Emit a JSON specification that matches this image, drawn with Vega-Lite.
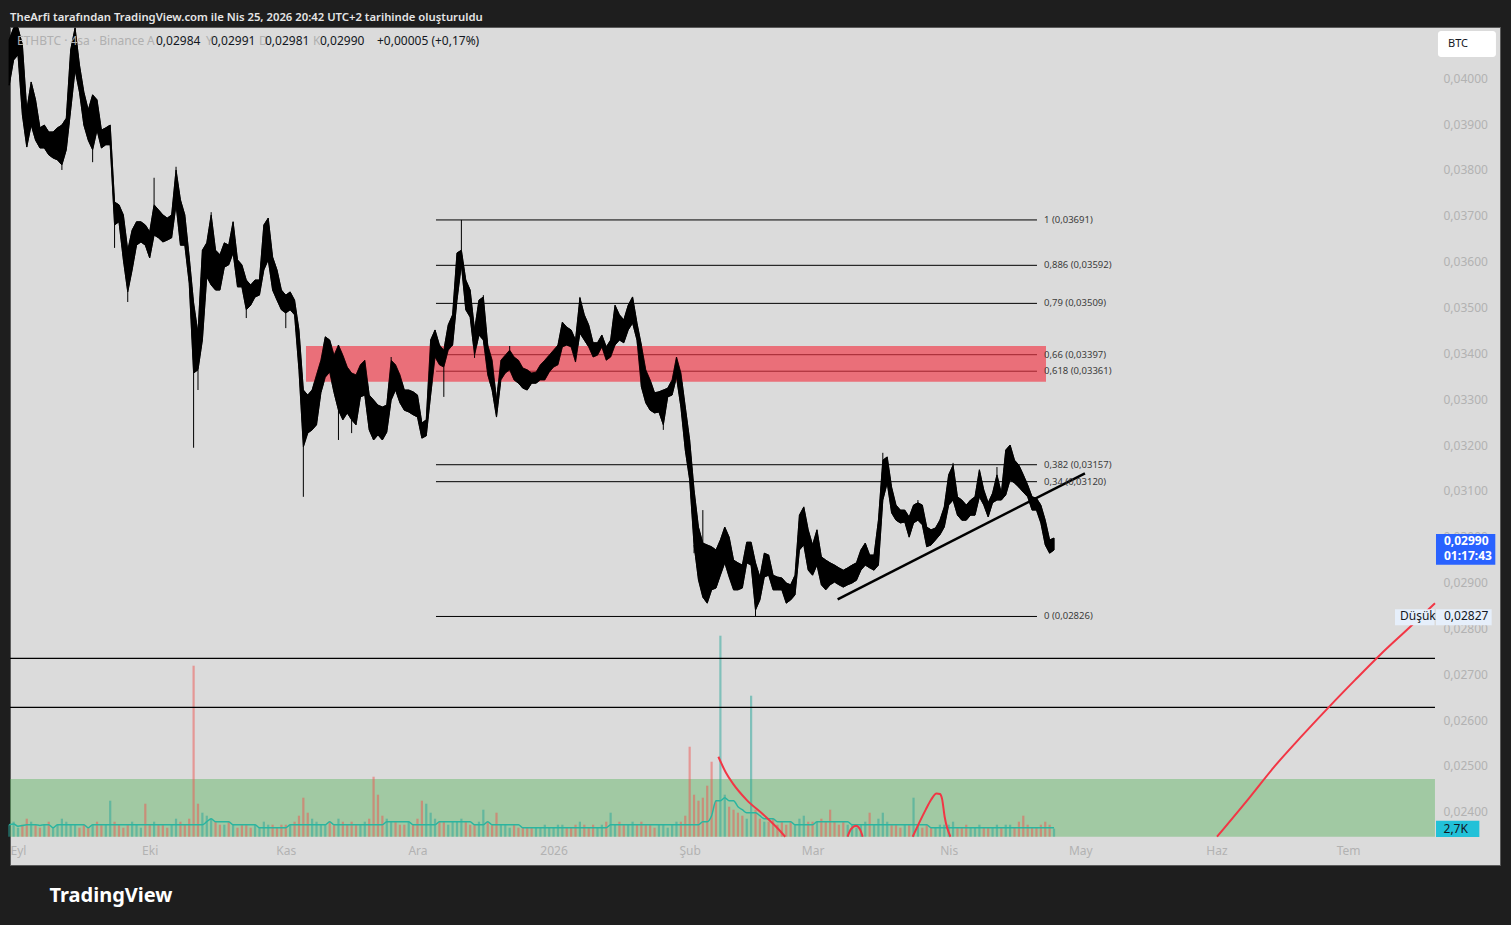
{
  "$schema": "https://vega.github.io/schema/vega-lite/v6.json",
  "width": 1490,
  "height": 838,
  "autosize": "none",
  "padding": {"left": 10, "top": 27, "right": 11, "bottom": 60},
  "background": "#1e1e1e",
  "title": {
    "text": "TheArfi tarafından TradingView.com ile Nis 25, 2026 20:42 UTC+2 tarihinde oluşturuldu",
    "anchor": "start",
    "frame": "group",
    "color": "#e6e6e6",
    "fontSize": 11.3,
    "fontWeight": 600,
    "font": "Noto Sans",
    "offset": 9,
    "dy": 15,
    "baseline": "alphabetic"
  },
  "config": {
    "view": {"fill": "#dbdbdb", "stroke": "#5b5b5b"},
    "scale": {"continuousPadding": 0},
    "font": "Noto Sans"
  },
  "datasets": {
    "fiyat": [
      {"t":"2025-08-30","h":0.04084,"l":0.03985,"v":4},
      {"t":"2025-08-31","h":0.04110,"l":0.04040,"v":5},
      {"t":"2025-09-01","h":0.04110,"l":0.04051,"v":3},
      {"t":"2025-09-02","h":0.04073,"l":0.03920,"v":4},
      {"t":"2025-09-03","h":0.03931,"l":0.03850,"v":6},
      {"t":"2025-09-04","h":0.03992,"l":0.03898,"v":5},
      {"t":"2025-09-05","h":0.03953,"l":0.03865,"v":4},
      {"t":"2025-09-06","h":0.03892,"l":0.03848,"v":3},
      {"t":"2025-09-07","h":0.03898,"l":0.03848,"v":4},
      {"t":"2025-09-08","h":0.03883,"l":0.03833,"v":5},
      {"t":"2025-09-09","h":0.03883,"l":0.03826,"v":3},
      {"t":"2025-09-10","h":0.03892,"l":0.03822,"v":4},
      {"t":"2025-09-11","h":0.03898,"l":0.03811,"wl":0.03800,"v":6},
      {"t":"2025-09-12","h":0.03913,"l":0.03844,"v":5},
      {"t":"2025-09-13","h":0.04062,"l":0.03931,"v":4},
      {"t":"2025-09-14","h":0.04110,"l":0.04018,"v":4},
      {"t":"2025-09-15","h":0.04029,"l":0.03970,"v":3},
      {"t":"2025-09-16","h":0.03970,"l":0.03898,"v":4},
      {"t":"2025-09-17","h":0.03931,"l":0.03865,"v":3},
      {"t":"2025-09-18","h":0.03964,"l":0.03844,"wl":0.03817,"v":4},
      {"t":"2025-09-19","h":0.03953,"l":0.03887,"v":5},
      {"t":"2025-09-20","h":0.03887,"l":0.03848,"v":4},
      {"t":"2025-09-21","h":0.03892,"l":0.03855,"v":4},
      {"t":"2025-09-22","h":0.03898,"l":0.03855,"v":12},
      {"t":"2025-09-23","h":0.03730,"l":0.03680,"wl":0.03630,"v":5},
      {"t":"2025-09-24","h":0.03724,"l":0.03687,"v":4},
      {"t":"2025-09-25","h":0.03702,"l":0.03604,"v":3},
      {"t":"2025-09-26","h":0.03625,"l":0.03534,"wl":0.03512,"v":4},
      {"t":"2025-09-27","h":0.03669,"l":0.03582,"v":5},
      {"t":"2025-09-28","h":0.03687,"l":0.03636,"v":4},
      {"t":"2025-09-29","h":0.03687,"l":0.03643,"v":3},
      {"t":"2025-09-30","h":0.03680,"l":0.03636,"v":11},
      {"t":"2025-10-01","h":0.03665,"l":0.03608,"v":4},
      {"t":"2025-10-02","h":0.03724,"l":0.03658,"wh":0.03783,"v":5},
      {"t":"2025-10-03","h":0.03713,"l":0.03652,"v":4},
      {"t":"2025-10-04","h":0.03702,"l":0.03643,"v":4},
      {"t":"2025-10-05","h":0.03695,"l":0.03647,"v":3},
      {"t":"2025-10-06","h":0.03702,"l":0.03652,"v":4},
      {"t":"2025-10-07","h":0.03800,"l":0.03724,"wh":0.03807,"v":6},
      {"t":"2025-10-08","h":0.03735,"l":0.03636,"v":5},
      {"t":"2025-10-09","h":0.03702,"l":0.03636,"v":4},
      {"t":"2025-10-10","h":0.03610,"l":0.03553,"v":6},
      {"t":"2025-10-11","h":0.03510,"l":0.03357,"wl":0.03194,"v":57},
      {"t":"2025-10-12","h":0.03444,"l":0.03364,"wl":0.03320,"v":11},
      {"t":"2025-10-13","h":0.03625,"l":0.03429,"v":8},
      {"t":"2025-10-14","h":0.03641,"l":0.03567,"v":7},
      {"t":"2025-10-15","h":0.03702,"l":0.03549,"wh":0.03708,"v":6},
      {"t":"2025-10-16","h":0.03625,"l":0.03538,"v":5},
      {"t":"2025-10-17","h":0.03615,"l":0.03538,"v":4},
      {"t":"2025-10-18","h":0.03641,"l":0.03588,"v":4},
      {"t":"2025-10-19","h":0.03636,"l":0.03593,"v":5},
      {"t":"2025-10-20","h":0.03687,"l":0.03619,"v":4},
      {"t":"2025-10-21","h":0.03604,"l":0.03545,"v":3},
      {"t":"2025-10-22","h":0.03593,"l":0.03545,"v":4},
      {"t":"2025-10-23","h":0.03560,"l":0.03495,"wl":0.03477,"v":4},
      {"t":"2025-10-24","h":0.03549,"l":0.03505,"v":3},
      {"t":"2025-10-25","h":0.03560,"l":0.03523,"v":4},
      {"t":"2025-10-26","h":0.03560,"l":0.03527,"v":3},
      {"t":"2025-10-27","h":0.03680,"l":0.03582,"v":5},
      {"t":"2025-10-28","h":0.03695,"l":0.03604,"v":4},
      {"t":"2025-10-29","h":0.03610,"l":0.03538,"v":4},
      {"t":"2025-10-30","h":0.03582,"l":0.03516,"v":3},
      {"t":"2025-10-31","h":0.03538,"l":0.03495,"v":4},
      {"t":"2025-11-01","h":0.03527,"l":0.03488,"wl":0.03455,"v":4},
      {"t":"2025-11-02","h":0.03534,"l":0.03495,"v":4},
      {"t":"2025-11-03","h":0.03516,"l":0.03484,"v":5},
      {"t":"2025-11-04","h":0.03451,"l":0.03364,"v":7},
      {"t":"2025-11-05","h":0.03320,"l":0.03196,"wl":0.03087,"v":13},
      {"t":"2025-11-06","h":0.03309,"l":0.03226,"v":8},
      {"t":"2025-11-07","h":0.03320,"l":0.03233,"v":6},
      {"t":"2025-11-08","h":0.03353,"l":0.03244,"v":5},
      {"t":"2025-11-09","h":0.03385,"l":0.03314,"v":4},
      {"t":"2025-11-10","h":0.03436,"l":0.03348,"v":4},
      {"t":"2025-11-11","h":0.03429,"l":0.03359,"v":5},
      {"t":"2025-11-12","h":0.03396,"l":0.03314,"v":4},
      {"t":"2025-11-13","h":0.03418,"l":0.03276,"wl":0.03211,"v":6},
      {"t":"2025-11-14","h":0.03396,"l":0.03255,"v":5},
      {"t":"2025-11-15","h":0.03370,"l":0.03270,"v":4},
      {"t":"2025-11-16","h":0.03357,"l":0.03255,"wl":0.03226,"v":5},
      {"t":"2025-11-17","h":0.03353,"l":0.03244,"v":4},
      {"t":"2025-11-18","h":0.03375,"l":0.03305,"v":4},
      {"t":"2025-11-19","h":0.03385,"l":0.03309,"v":5},
      {"t":"2025-11-20","h":0.03309,"l":0.03233,"v":6},
      {"t":"2025-11-21","h":0.03298,"l":0.03211,"v":20},
      {"t":"2025-11-22","h":0.03287,"l":0.03222,"v":14},
      {"t":"2025-11-23","h":0.03283,"l":0.03211,"v":7},
      {"t":"2025-11-24","h":0.03287,"l":0.03228,"v":6},
      {"t":"2025-11-25","h":0.03385,"l":0.03298,"wh":0.03392,"v":5},
      {"t":"2025-11-26","h":0.03375,"l":0.03320,"v":5},
      {"t":"2025-11-27","h":0.03353,"l":0.03292,"v":4},
      {"t":"2025-11-28","h":0.03320,"l":0.03276,"v":4},
      {"t":"2025-11-29","h":0.03320,"l":0.03272,"v":5},
      {"t":"2025-11-30","h":0.03316,"l":0.03266,"v":4},
      {"t":"2025-12-01","h":0.03309,"l":0.03261,"v":6},
      {"t":"2025-12-02","h":0.03248,"l":0.03215,"v":12},
      {"t":"2025-12-03","h":0.03255,"l":0.03220,"v":11},
      {"t":"2025-12-04","h":0.03429,"l":0.03309,"v":8},
      {"t":"2025-12-05","h":0.03451,"l":0.03392,"v":6},
      {"t":"2025-12-06","h":0.03418,"l":0.03375,"v":5},
      {"t":"2025-12-07","h":0.03407,"l":0.03370,"wl":0.03305,"v":5},
      {"t":"2025-12-08","h":0.03462,"l":0.03407,"v":4},
      {"t":"2025-12-09","h":0.03484,"l":0.03418,"v":5},
      {"t":"2025-12-10","h":0.03619,"l":0.03516,"v":5},
      {"t":"2025-12-11","h":0.03625,"l":0.03593,"wh":0.03691,"v":6},
      {"t":"2025-12-12","h":0.03560,"l":0.03495,"v":5},
      {"t":"2025-12-13","h":0.03538,"l":0.03479,"v":4},
      {"t":"2025-12-14","h":0.03451,"l":0.03396,"wl":0.03390,"v":4},
      {"t":"2025-12-15","h":0.03516,"l":0.03440,"v":5},
      {"t":"2025-12-16","h":0.03523,"l":0.03429,"wh":0.03527,"v":9},
      {"t":"2025-12-17","h":0.03418,"l":0.03353,"v":5},
      {"t":"2025-12-18","h":0.03385,"l":0.03320,"v":4},
      {"t":"2025-12-19","h":0.03298,"l":0.03261,"v":8},
      {"t":"2025-12-20","h":0.03385,"l":0.03342,"v":4},
      {"t":"2025-12-21","h":0.03396,"l":0.03357,"v":4},
      {"t":"2025-12-22","h":0.03407,"l":0.03364,"wh":0.03416,"v":3},
      {"t":"2025-12-23","h":0.03392,"l":0.03342,"v":4},
      {"t":"2025-12-24","h":0.03385,"l":0.03335,"v":3},
      {"t":"2025-12-25","h":0.03368,"l":0.03324,"v":3},
      {"t":"2025-12-26","h":0.03364,"l":0.03320,"v":3},
      {"t":"2025-12-27","h":0.03357,"l":0.03335,"v":3},
      {"t":"2025-12-28","h":0.03359,"l":0.03335,"v":3},
      {"t":"2025-12-29","h":0.03375,"l":0.03342,"v":3},
      {"t":"2025-12-30","h":0.03385,"l":0.03342,"v":4},
      {"t":"2025-12-31","h":0.03396,"l":0.03359,"v":3},
      {"t":"2026-01-01","h":0.03407,"l":0.03370,"v":3},
      {"t":"2026-01-02","h":0.03418,"l":0.03375,"v":4},
      {"t":"2026-01-03","h":0.03468,"l":0.03414,"v":4},
      {"t":"2026-01-04","h":0.03457,"l":0.03418,"v":3},
      {"t":"2026-01-05","h":0.03451,"l":0.03414,"v":3},
      {"t":"2026-01-06","h":0.03429,"l":0.03381,"v":4},
      {"t":"2026-01-07","h":0.03521,"l":0.03444,"wh":0.03523,"v":5},
      {"t":"2026-01-08","h":0.03484,"l":0.03429,"v":4},
      {"t":"2026-01-09","h":0.03462,"l":0.03414,"v":3},
      {"t":"2026-01-10","h":0.03423,"l":0.03392,"v":4},
      {"t":"2026-01-11","h":0.03423,"l":0.03396,"v":3},
      {"t":"2026-01-12","h":0.03440,"l":0.03414,"v":4},
      {"t":"2026-01-13","h":0.03414,"l":0.03385,"v":5},
      {"t":"2026-01-14","h":0.03429,"l":0.03392,"v":8},
      {"t":"2026-01-15","h":0.03505,"l":0.03418,"v":4},
      {"t":"2026-01-16","h":0.03484,"l":0.03429,"v":5},
      {"t":"2026-01-17","h":0.03473,"l":0.03423,"v":4},
      {"t":"2026-01-18","h":0.03505,"l":0.03451,"v":4},
      {"t":"2026-01-19","h":0.03523,"l":0.03466,"v":5},
      {"t":"2026-01-20","h":0.03466,"l":0.03429,"v":4},
      {"t":"2026-01-21","h":0.03418,"l":0.03327,"v":5},
      {"t":"2026-01-22","h":0.03364,"l":0.03292,"v":4},
      {"t":"2026-01-23","h":0.03342,"l":0.03276,"v":4},
      {"t":"2026-01-24","h":0.03314,"l":0.03270,"v":3},
      {"t":"2026-01-25","h":0.03316,"l":0.03272,"v":4},
      {"t":"2026-01-26","h":0.03320,"l":0.03244,"wl":0.03233,"v":4},
      {"t":"2026-01-27","h":0.03324,"l":0.03305,"v":3},
      {"t":"2026-01-28","h":0.03342,"l":0.03309,"v":4},
      {"t":"2026-01-29","h":0.03392,"l":0.03348,"v":5},
      {"t":"2026-01-30","h":0.03357,"l":0.03283,"v":5},
      {"t":"2026-01-31","h":0.03283,"l":0.03189,"v":7},
      {"t":"2026-02-01","h":0.03211,"l":0.03124,"v":30},
      {"t":"2026-02-02","h":0.03102,"l":0.02982,"wl":0.02964,"v":14},
      {"t":"2026-02-03","h":0.03021,"l":0.02906,"v":12},
      {"t":"2026-02-04","h":0.02986,"l":0.02868,"wh":0.03058,"v":13},
      {"t":"2026-02-05","h":0.02982,"l":0.02855,"v":17},
      {"t":"2026-02-06","h":0.02978,"l":0.02884,"v":25},
      {"t":"2026-02-07","h":0.02971,"l":0.02888,"v":12},
      {"t":"2026-02-08","h":0.02993,"l":0.02916,"v":67},
      {"t":"2026-02-09","h":0.03021,"l":0.02943,"v":14},
      {"t":"2026-02-10","h":0.02999,"l":0.02912,"v":10},
      {"t":"2026-02-11","h":0.02949,"l":0.02884,"v":9},
      {"t":"2026-02-12","h":0.02943,"l":0.02884,"v":8},
      {"t":"2026-02-13","h":0.02938,"l":0.02888,"v":7},
      {"t":"2026-02-14","h":0.02988,"l":0.02943,"v":6},
      {"t":"2026-02-15","h":0.02988,"l":0.02938,"v":47},
      {"t":"2026-02-16","h":0.02943,"l":0.02840,"wl":0.02827,"v":9},
      {"t":"2026-02-17","h":0.02912,"l":0.02862,"v":6},
      {"t":"2026-02-18","h":0.02964,"l":0.02912,"v":5},
      {"t":"2026-02-19","h":0.02960,"l":0.02916,"v":5},
      {"t":"2026-02-20","h":0.02916,"l":0.02884,"v":6},
      {"t":"2026-02-21","h":0.02912,"l":0.02884,"v":4},
      {"t":"2026-02-22","h":0.02910,"l":0.02884,"v":5},
      {"t":"2026-02-23","h":0.02899,"l":0.02855,"v":4},
      {"t":"2026-02-24","h":0.02895,"l":0.02862,"v":5},
      {"t":"2026-02-25","h":0.02916,"l":0.02873,"v":4},
      {"t":"2026-02-26","h":0.03047,"l":0.02971,"v":6},
      {"t":"2026-02-27","h":0.03065,"l":0.02982,"v":7},
      {"t":"2026-02-28","h":0.03015,"l":0.02927,"v":5},
      {"t":"2026-03-01","h":0.02982,"l":0.02916,"v":5},
      {"t":"2026-03-02","h":0.03015,"l":0.02938,"v":5},
      {"t":"2026-03-03","h":0.02956,"l":0.02895,"v":6},
      {"t":"2026-03-04","h":0.02949,"l":0.02884,"v":5},
      {"t":"2026-03-05","h":0.02943,"l":0.02895,"v":9},
      {"t":"2026-03-06","h":0.02938,"l":0.02901,"v":5},
      {"t":"2026-03-07","h":0.02932,"l":0.02895,"v":4},
      {"t":"2026-03-08","h":0.02927,"l":0.02890,"v":5},
      {"t":"2026-03-09","h":0.02932,"l":0.02895,"v":4},
      {"t":"2026-03-10","h":0.02938,"l":0.02899,"v":4},
      {"t":"2026-03-11","h":0.02943,"l":0.02905,"v":3},
      {"t":"2026-03-12","h":0.02971,"l":0.02927,"v":4},
      {"t":"2026-03-13","h":0.02986,"l":0.02938,"v":5},
      {"t":"2026-03-14","h":0.02960,"l":0.02932,"v":8},
      {"t":"2026-03-15","h":0.02960,"l":0.02927,"v":4},
      {"t":"2026-03-16","h":0.03036,"l":0.02938,"v":6},
      {"t":"2026-03-17","h":0.03167,"l":0.03080,"wh":0.03183,"v":8},
      {"t":"2026-03-18","h":0.03174,"l":0.03117,"v":5},
      {"t":"2026-03-19","h":0.03108,"l":0.03052,"v":4},
      {"t":"2026-03-20","h":0.03069,"l":0.03036,"v":4},
      {"t":"2026-03-21","h":0.03058,"l":0.03030,"v":3},
      {"t":"2026-03-22","h":0.03058,"l":0.03032,"v":4},
      {"t":"2026-03-23","h":0.03043,"l":0.02999,"v":4},
      {"t":"2026-03-24","h":0.03069,"l":0.03030,"v":13},
      {"t":"2026-03-25","h":0.03074,"l":0.03036,"wh":0.03080,"v":4},
      {"t":"2026-03-26","h":0.03069,"l":0.03026,"v":3},
      {"t":"2026-03-27","h":0.03021,"l":0.02978,"v":4},
      {"t":"2026-03-28","h":0.03015,"l":0.02982,"v":3},
      {"t":"2026-03-29","h":0.03019,"l":0.02993,"v":3},
      {"t":"2026-03-30","h":0.03036,"l":0.03004,"v":4},
      {"t":"2026-03-31","h":0.03065,"l":0.03021,"v":4},
      {"t":"2026-04-01","h":0.03135,"l":0.03069,"v":4},
      {"t":"2026-04-02","h":0.03156,"l":0.03080,"wh":0.03161,"v":5},
      {"t":"2026-04-03","h":0.03087,"l":0.03047,"v":3},
      {"t":"2026-04-04","h":0.03080,"l":0.03036,"v":3},
      {"t":"2026-04-05","h":0.03069,"l":0.03036,"v":4},
      {"t":"2026-04-06","h":0.03080,"l":0.03047,"v":3},
      {"t":"2026-04-07","h":0.03087,"l":0.03047,"v":3},
      {"t":"2026-04-08","h":0.03146,"l":0.03087,"v":4},
      {"t":"2026-04-09","h":0.03102,"l":0.03069,"v":3},
      {"t":"2026-04-10","h":0.03074,"l":0.03043,"v":3},
      {"t":"2026-04-11","h":0.03095,"l":0.03074,"v":3},
      {"t":"2026-04-12","h":0.03135,"l":0.03080,"wh":0.03152,"v":4},
      {"t":"2026-04-13","h":0.03095,"l":0.03080,"v":3},
      {"t":"2026-04-14","h":0.03189,"l":0.03091,"v":4},
      {"t":"2026-04-15","h":0.03200,"l":0.03124,"v":4},
      {"t":"2026-04-16","h":0.03167,"l":0.03117,"v":3},
      {"t":"2026-04-17","h":0.03156,"l":0.03108,"v":5},
      {"t":"2026-04-18","h":0.03135,"l":0.03097,"v":7},
      {"t":"2026-04-19","h":0.03113,"l":0.03087,"v":4},
      {"t":"2026-04-20","h":0.03087,"l":0.03058,"v":3},
      {"t":"2026-04-21","h":0.03084,"l":0.03058,"v":3},
      {"t":"2026-04-22","h":0.03069,"l":0.03030,"v":4},
      {"t":"2026-04-23","h":0.03036,"l":0.02982,"v":5},
      {"t":"2026-04-24","h":0.02993,"l":0.02964,"v":4},
      {"t":"2026-04-25","h":0.02997,"l":0.02971,"v":2.7}
    ],
    "fib": [
      {"seviye":0.03691,"etiket":"1 (0,03691)"},
      {"seviye":0.03592,"etiket":"0,886 (0,03592)"},
      {"seviye":0.03509,"etiket":"0,79 (0,03509)"},
      {"seviye":0.03397,"etiket":"0,66 (0,03397)"},
      {"seviye":0.03361,"etiket":"0,618 (0,03361)"},
      {"seviye":0.03157,"etiket":"0,382 (0,03157)"},
      {"seviye":0.03120,"etiket":"0,34 (0,03120)"},
      {"seviye":0.02826,"etiket":"0 (0,02826)"}
    ],
    "kirmizi": [
      {"seg":1,"t":"2026-02-07T13:00:00Z","p":0.02520},
      {"seg":1,"t":"2026-02-09T06:30:00Z","p":0.02485},
      {"seg":1,"t":"2026-02-10T19:40:00Z","p":0.02462},
      {"seg":1,"t":"2026-02-13T23:15:00Z","p":0.02426},
      {"seg":1,"t":"2026-02-17T21:20:00Z","p":0.02393},
      {"seg":1,"t":"2026-02-21T00:40:00Z","p":0.02364},
      {"seg":1,"t":"2026-02-22T18:15:00Z","p":0.023455},
      {"seg":2,"t":"2026-03-08T23:00:00Z","p":0.023455},
      {"seg":2,"t":"2026-03-09T18:00:00Z","p":0.02362},
      {"seg":2,"t":"2026-03-10T22:00:00Z","p":0.023695},
      {"seg":2,"t":"2026-03-11T19:00:00Z","p":0.02362},
      {"seg":2,"t":"2026-03-12T10:00:00Z","p":0.023455},
      {"seg":3,"t":"2026-03-23T19:00:00Z","p":0.023455},
      {"seg":3,"t":"2026-03-25T06:00:00Z","p":0.02375},
      {"seg":3,"t":"2026-03-26T18:00:00Z","p":0.02404},
      {"seg":3,"t":"2026-03-27T23:00:00Z","p":0.024256},
      {"seg":3,"t":"2026-03-29T06:00:00Z","p":0.02440},
      {"seg":3,"t":"2026-03-30T00:00:00Z","p":0.024387},
      {"seg":3,"t":"2026-03-30T12:00:00Z","p":0.02428},
      {"seg":3,"t":"2026-03-31T02:00:00Z","p":0.02389},
      {"seg":3,"t":"2026-04-01T10:00:00Z","p":0.023455},
      {"seg":4,"t":"2026-06-01T03:00:00Z","p":0.023455},
      {"seg":4,"t":"2026-06-08T15:00:00Z","p":0.02432},
      {"seg":4,"t":"2026-06-14T08:00:00Z","p":0.02500},
      {"seg":4,"t":"2026-06-20T01:00:00Z","p":0.02561},
      {"seg":4,"t":"2026-06-26T21:00:00Z","p":0.02631},
      {"seg":4,"t":"2026-07-02T13:00:00Z","p":0.02687},
      {"seg":4,"t":"2026-07-08T06:00:00Z","p":0.02742},
      {"seg":4,"t":"2026-07-15T02:00:00Z","p":0.02803},
      {"seg":4,"t":"2026-07-20T18:42:00Z","p":0.02855}
    ],
    "trend": [
      {"t":"2026-03-06T17:00:00Z","p":0.028634},
      {"t":"2026-05-02T01:00:00Z","p":0.031383}
    ]
  },
  "layer": [
    {
      "data": {"values": [{"ust": 0.024714, "alt": 0.023455}]},
      "mark": {"type": "rect", "color": "#4caf50", "opacity": 0.4},
      "encoding": {
        "x": {"datum": {"year": 2025, "month": 8, "date": 30, "hours": 4, "minutes": 16, "utc": true}},
        "x2": {"datum": {"year": 2026, "month": 7, "date": 20, "hours": 18, "minutes": 42, "utc": true}},
        "y": {"field": "ust", "type": "quantitative", "scale": {"domain": [0.022838, 0.041119], "nice": false, "zero": false}, "axis": null},
        "y2": {"field": "alt"}
      }
    },
    {
      "data": {"name": "fiyat"},
      "transform": [
        {"window": [{"op": "lag", "field": "h", "as": "onceki"}, {"op": "q1", "field": "v", "as": "ort"}], "sort": [{"field": "t"}], "frame": [-8, 0]}
      ],
      "encoding": {"x": {"field": "t", "type": "temporal"}},
      "layer": [
        {
          "mark": {"type": "bar", "width": 2.2, "opacity": 0.5},
          "encoding": {
            "y": {"field": "v", "type": "quantitative", "scale": {"domain": [-9.43, 269.9], "nice": false, "zero": false}, "axis": null},
            "y2": {"datum": 0},
            "color": {"condition": {"test": "datum.h >= datum.onceki", "value": "#26a69a"}, "value": "#ef5350"}
          }
        },
        {
          "mark": {"type": "line", "color": "#2ab5a0", "strokeWidth": 1.5, "interpolate": "monotone"},
          "encoding": {"y": {"field": "ort", "type": "quantitative"}}
        }
      ]
    },
    {
      "layer": [
        {
          "data": {"name": "fiyat"},
          "mark": {"type": "area", "color": "#000000", "stroke": "#000000", "strokeWidth": 0.8, "interpolate": "linear"},
          "encoding": {
            "x": {
              "field": "t", "type": "temporal",
              "scale": {"nice": false, "padding": 0, "domain": [{"year": 2025, "month": 8, "date": 30, "hours": 4, "minutes": 16, "utc": true}, {"year": 2026, "month": 8, "date": 4, "hours": 14, "minutes": 10, "utc": true}]},
              "axis": {
                "orient": "bottom", "offset": -28, "domain": false, "ticks": false, "tickSize": 0, "grid": false,
                "labelPadding": 8, "labelFontSize": 12, "labelColor": "#b2b2b2", "labelOverlap": false, "labelFlush": false, "labelBaseline": "top",
                "values": [
                  {"year": 2025, "month": 9, "date": 1, "utc": true},
                  {"year": 2025, "month": 10, "date": 1, "utc": true},
                  {"year": 2025, "month": 11, "date": 1, "utc": true},
                  {"year": 2025, "month": 12, "date": 1, "utc": true},
                  {"year": 2026, "month": 1, "date": 1, "utc": true},
                  {"year": 2026, "month": 2, "date": 1, "utc": true},
                  {"year": 2026, "month": 3, "date": 1, "utc": true},
                  {"year": 2026, "month": 4, "date": 1, "utc": true},
                  {"year": 2026, "month": 5, "date": 1, "utc": true},
                  {"year": 2026, "month": 6, "date": 1, "utc": true},
                  {"year": 2026, "month": 7, "date": 1, "utc": true}
                ],
                "labelExpr": "utcmonth(datum.value) == 0 ? '2026' : ['Oca','Şub','Mar','Nis','May','Haz','Tem','Ağu','Eyl','Eki','Kas','Ara'][utcmonth(datum.value)]",
                "title": "TradingView", "titleX": 39, "titleY": 58, "titleAlign": "left", "titleBaseline": "middle",
                "titleFontSize": 20, "titleFontWeight": "bold", "titleColor": "#ffffff", "titleAngle": 0
              }
            },
            "y": {
              "field": "h", "type": "quantitative",
              "scale": {"domain": [0.022838, 0.041119], "nice": false, "zero": false},
              "axis": {
                "orient": "right", "offset": -57, "domain": false, "ticks": false, "tickSize": 0, "grid": false, "title": null,
                "labelPadding": 0, "labelAlign": "left", "labelFontSize": 12, "labelColor": "#b2b2b2", "labelOverlap": false, "labelFlush": false,
                "values": [0.024, 0.025, 0.026, 0.027, 0.028, 0.029, 0.030, 0.031, 0.032, 0.033, 0.034, 0.035, 0.036, 0.037, 0.038, 0.039, 0.040],
                "labelExpr": "replace(format(datum.value, '.5f'), '.', ',')"
              }
            },
            "y2": {"field": "l"}
          }
        },
        {
          "data": {"values": [{"p": 0.027347}, {"p": 0.026278}]},
          "mark": {"type": "rule", "color": "#000000", "strokeWidth": 1.2},
          "encoding": {
            "x": {"datum": {"year": 2025, "month": 8, "date": 30, "hours": 4, "minutes": 16, "utc": true}},
            "x2": {"datum": {"year": 2026, "month": 7, "date": 20, "hours": 18, "minutes": 42, "utc": true}},
            "y": {"field": "p", "type": "quantitative"}
          }
        },
        {
          "data": {"name": "kirmizi"},
          "mark": {"type": "line", "color": "#f23645", "strokeWidth": 2, "interpolate": "monotone"},
          "encoding": {
            "x": {"field": "t", "type": "temporal"},
            "y": {"field": "p", "type": "quantitative"},
            "detail": {"field": "seg"}
          }
        },
        {
          "data": {"name": "fib"},
          "mark": {"type": "rule", "color": "#000000", "strokeWidth": 1},
          "encoding": {
            "x": {"datum": {"year": 2025, "month": 12, "date": 5, "hours": 5, "minutes": 11, "utc": true}},
            "x2": {"datum": {"year": 2026, "month": 4, "date": 21, "hours": 2, "minutes": 53, "utc": true}},
            "y": {"field": "seviye", "type": "quantitative"}
          }
        },
        {
          "data": {"values": [{"ust": 0.03416, "alt": 0.03338}]},
          "mark": {"type": "rect", "color": "#f23645", "opacity": 0.65},
          "encoding": {
            "x": {"datum": {"year": 2025, "month": 11, "date": 5, "hours": 14, "minutes": 26, "utc": true}},
            "x2": {"datum": {"year": 2026, "month": 4, "date": 23, "hours": 4, "minutes": 6, "utc": true}},
            "y": {"field": "ust", "type": "quantitative"},
            "y2": {"field": "alt"}
          }
        },
        {
          "data": {"name": "fiyat"},
          "mark": {"type": "area", "color": "#000000", "stroke": "#000000", "strokeWidth": 0.8, "interpolate": "linear"},
          "encoding": {
            "x": {"field": "t", "type": "temporal"},
            "y": {"field": "h", "type": "quantitative"},
            "y2": {"field": "l"}
          }
        },
        {
          "data": {"name": "fiyat"},
          "mark": {"type": "rule", "color": "#000000", "strokeWidth": 1},
          "encoding": {
            "x": {"field": "t", "type": "temporal"},
            "y": {"field": "wh", "type": "quantitative"},
            "y2": {"field": "h"}
          }
        },
        {
          "data": {"name": "fiyat"},
          "mark": {"type": "rule", "color": "#000000", "strokeWidth": 1},
          "encoding": {
            "x": {"field": "t", "type": "temporal"},
            "y": {"field": "wl", "type": "quantitative"},
            "y2": {"field": "l"}
          }
        },
        {
          "data": {"name": "trend"},
          "mark": {"type": "line", "color": "#000000", "strokeWidth": 2.5},
          "encoding": {
            "x": {"field": "t", "type": "temporal"},
            "y": {"field": "p", "type": "quantitative"}
          }
        },
        {
          "data": {"name": "fib"},
          "mark": {"type": "text", "align": "left", "baseline": "middle", "fontSize": 9.5, "color": "#3c3c3c"},
          "encoding": {
            "x": {"datum": {"year": 2026, "month": 4, "date": 22, "hours": 17, "minutes": 3, "utc": true}},
            "y": {"field": "seviye", "type": "quantitative"},
            "text": {"field": "etiket"}
          }
        },
        {
          "data": {"values": [{}]},
          "mark": {"type": "text", "align": "left", "baseline": "middle", "fontSize": 12, "color": "#b0b0b0"},
          "encoding": {
            "x": {"datum": {"year": 2025, "month": 8, "date": 31, "hours": 18, "minutes": 30, "utc": true}},
            "y": {"datum": 0.040803},
            "text": {"value": "ETHBTC · 4sa · Binance"}
          }
        },
        {
          "data": {"values": [{}]},
          "mark": {"type": "text", "align": "left", "baseline": "middle", "fontSize": 12, "color": "#b0b0b0"},
          "encoding": {
            "x": {"datum": {"year": 2025, "month": 9, "date": 30, "hours": 9, "minutes": 14, "utc": true}},
            "y": {"datum": 0.040803},
            "text": {"value": "A"}
          }
        },
        {
          "data": {"values": [{}]},
          "mark": {"type": "text", "align": "left", "baseline": "middle", "fontSize": 12, "color": "#b0b0b0"},
          "encoding": {
            "x": {"datum": {"year": 2025, "month": 10, "date": 13, "hours": 19, "minutes": 48, "utc": true}},
            "y": {"datum": 0.040803},
            "text": {"value": "Y"}
          }
        },
        {
          "data": {"values": [{}]},
          "mark": {"type": "text", "align": "left", "baseline": "middle", "fontSize": 12, "color": "#b0b0b0"},
          "encoding": {
            "x": {"datum": {"year": 2025, "month": 10, "date": 25, "hours": 21, "minutes": 32, "utc": true}},
            "y": {"datum": 0.040803},
            "text": {"value": "D"}
          }
        },
        {
          "data": {"values": [{}]},
          "mark": {"type": "text", "align": "left", "baseline": "middle", "fontSize": 12, "color": "#b0b0b0"},
          "encoding": {
            "x": {"datum": {"year": 2025, "month": 11, "date": 7, "hours": 4, "minutes": 45, "utc": true}},
            "y": {"datum": 0.040803},
            "text": {"value": "K"}
          }
        },
        {
          "data": {"values": [{}]},
          "mark": {"type": "text", "align": "left", "baseline": "middle", "fontSize": 12, "color": "#131722"},
          "encoding": {
            "x": {"datum": {"year": 2025, "month": 10, "date": 2, "hours": 10, "minutes": 26, "utc": true}},
            "y": {"datum": 0.040803},
            "text": {"value": "0,02984"}
          }
        },
        {
          "data": {"values": [{}]},
          "mark": {"type": "text", "align": "left", "baseline": "middle", "fontSize": 12, "color": "#131722"},
          "encoding": {
            "x": {"datum": {"year": 2025, "month": 10, "date": 14, "hours": 23, "minutes": 8, "utc": true}},
            "y": {"datum": 0.040803},
            "text": {"value": "0,02991"}
          }
        },
        {
          "data": {"values": [{}]},
          "mark": {"type": "text", "align": "left", "baseline": "middle", "fontSize": 12, "color": "#131722"},
          "encoding": {
            "x": {"datum": {"year": 2025, "month": 10, "date": 27, "hours": 6, "minutes": 20, "utc": true}},
            "y": {"datum": 0.040803},
            "text": {"value": "0,02981"}
          }
        },
        {
          "data": {"values": [{}]},
          "mark": {"type": "text", "align": "left", "baseline": "middle", "fontSize": 12, "color": "#131722"},
          "encoding": {
            "x": {"datum": {"year": 2025, "month": 11, "date": 8, "hours": 19, "minutes": 2, "utc": true}},
            "y": {"datum": 0.040803},
            "text": {"value": "0,02990"}
          }
        },
        {
          "data": {"values": [{}]},
          "mark": {"type": "text", "align": "left", "baseline": "middle", "fontSize": 12, "color": "#131722"},
          "encoding": {
            "x": {"datum": {"year": 2025, "month": 11, "date": 21, "hours": 18, "minutes": 38, "utc": true}},
            "y": {"datum": 0.040803},
            "text": {"value": "+0,00005 (+0,17%)"}
          }
        },
        {
          "data": {"values": [{}]},
          "mark": {"type": "rect", "color": "#ffffff", "cornerRadius": 3},
          "encoding": {
            "x": {"datum": {"year": 2026, "month": 7, "date": 21, "hours": 11, "utc": true}},
            "x2": {"datum": {"year": 2026, "month": 8, "date": 3, "hours": 16, "utc": true}},
            "y": {"datum": 0.041032},
            "y2": {"datum": 0.040465}
          }
        },
        {
          "data": {"values": [{}]},
          "mark": {"type": "text", "align": "left", "baseline": "middle", "fontSize": 11, "color": "#131722"},
          "encoding": {
            "x": {"datum": {"year": 2026, "month": 7, "date": 23, "hours": 17, "minutes": 45, "utc": true}},
            "y": {"datum": 0.040748},
            "text": {"value": "BTC"}
          }
        },
        {
          "data": {"values": [{}]},
          "mark": {"type": "rect", "color": "#2962ff"},
          "encoding": {
            "x": {"datum": {"year": 2026, "month": 7, "date": 21, "hours": 0, "minutes": 15, "utc": true}},
            "x2": {"datum": {"year": 2026, "month": 8, "date": 3, "hours": 12, "minutes": 30, "utc": true}},
            "y": {"datum": 0.030059},
            "y2": {"datum": 0.029389}
          }
        },
        {
          "data": {"values": [{"fiyat": 0.0299}]},
          "mark": {"type": "text", "align": "left", "baseline": "middle", "fontSize": 12, "fontWeight": "bold", "color": "#ffffff"},
          "encoding": {
            "x": {"datum": {"year": 2026, "month": 7, "date": 22, "hours": 19, "minutes": 50, "utc": true}},
            "y": {"field": "fiyat", "type": "quantitative"},
            "text": {"value": "0,02990"}
          }
        },
        {
          "data": {"values": [{"fiyat": 0.0299}]},
          "mark": {"type": "text", "align": "left", "baseline": "middle", "fontSize": 12, "fontWeight": "bold", "color": "#ffffff", "dy": 15},
          "encoding": {
            "x": {"datum": {"year": 2026, "month": 7, "date": 22, "hours": 19, "minutes": 50, "utc": true}},
            "y": {"field": "fiyat", "type": "quantitative"},
            "text": {"value": "01:17:43"}
          }
        },
        {
          "data": {"values": [{}]},
          "mark": {"type": "rect", "color": "#e6effb"},
          "encoding": {
            "x": {"datum": {"year": 2026, "month": 7, "date": 11, "hours": 16, "utc": true}},
            "x2": {"datum": {"year": 2026, "month": 7, "date": 20, "hours": 15, "minutes": 50, "utc": true}},
            "y": {"datum": 0.028416},
            "y2": {"datum": 0.028067}
          }
        },
        {
          "data": {"values": [{}]},
          "mark": {"type": "rect", "color": "#e6effb"},
          "encoding": {
            "x": {"datum": {"year": 2026, "month": 7, "date": 21, "hours": 0, "minutes": 15, "utc": true}},
            "x2": {"datum": {"year": 2026, "month": 8, "date": 2, "hours": 16, "minutes": 35, "utc": true}},
            "y": {"datum": 0.028416},
            "y2": {"datum": 0.028067}
          }
        },
        {
          "data": {"values": [{"fiyat": 0.02827}]},
          "mark": {"type": "text", "align": "left", "baseline": "middle", "fontSize": 12, "color": "#131722"},
          "encoding": {
            "x": {"datum": {"year": 2026, "month": 7, "date": 12, "hours": 19, "minutes": 30, "utc": true}},
            "y": {"field": "fiyat", "type": "quantitative"},
            "text": {"value": "Düşük"}
          }
        },
        {
          "data": {"values": [{"fiyat": 0.02827}]},
          "mark": {"type": "text", "align": "left", "baseline": "middle", "fontSize": 12, "color": "#131722"},
          "encoding": {
            "x": {"datum": {"year": 2026, "month": 7, "date": 22, "hours": 19, "minutes": 50, "utc": true}},
            "y": {"field": "fiyat", "type": "quantitative"},
            "text": {"value": "0,02827"}
          }
        },
        {
          "data": {"values": [{}]},
          "mark": {"type": "rect", "color": "#22c1d8"},
          "encoding": {
            "x": {"datum": {"year": 2026, "month": 7, "date": 21, "hours": 0, "minutes": 15, "utc": true}},
            "x2": {"datum": {"year": 2026, "month": 7, "date": 30, "hours": 21, "minutes": 20, "utc": true}},
            "y": {"datum": 0.023804},
            "y2": {"datum": 0.023449}
          }
        },
        {
          "data": {"values": [{}]},
          "mark": {"type": "text", "align": "left", "baseline": "middle", "fontSize": 12, "color": "#131722"},
          "encoding": {
            "x": {"datum": {"year": 2026, "month": 7, "date": 22, "hours": 17, "minutes": 30, "utc": true}},
            "y": {"datum": 0.023623},
            "text": {"value": "2,7K"}
          }
        }
      ]
    }
  ],
  "resolve": {"scale": {"y": "independent"}, "axis": {"y": "independent"}}
}
